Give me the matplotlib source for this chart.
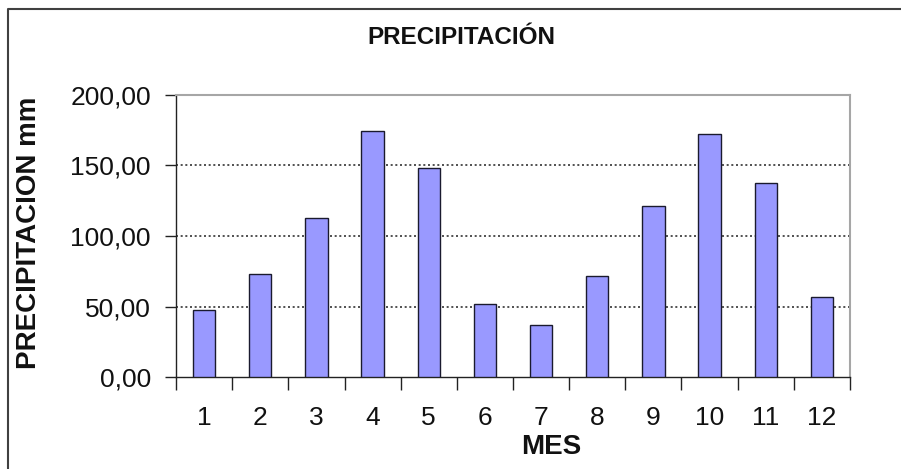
import matplotlib
matplotlib.use("Agg")
import matplotlib.pyplot as plt
from matplotlib.ticker import FixedLocator, FuncFormatter
from matplotlib.lines import Line2D

# --- Data ---
meses = [1, 2, 3, 4, 5, 6, 7, 8, 9, 10, 11, 12]
precipitacion = [47.5, 73.0, 113.0, 174.5, 148.0, 52.0, 37.0, 71.5, 121.5, 172.0, 137.5, 57.0]
y_ticks = [0, 50, 100, 150, 200]

plt.rcParams['font.family'] = ['Liberation Sans', 'DejaVu Sans']

fig = plt.figure(figsize=(9.01, 4.69), dpi=100)
fig.patch.set_facecolor('white')
ax = fig.add_axes([176 / 901, 1 - 377 / 469, (850 - 176) / 901, (377 - 95) / 469])

# --- Bars ---
ax.bar(meses, precipitacion, width=0.4, color='#9999FF', edgecolor='#1a1a2e',
       linewidth=1.0, zorder=3)

# --- Axes ---
ax.set_xlim(0.5, 12.5)
ax.set_ylim(0, 200)

ax.xaxis.set_major_locator(FixedLocator([m + 0.5 for m in [0] + meses]))
ax.xaxis.set_major_formatter(FuncFormatter(lambda v, p: ''))
ax.xaxis.set_minor_locator(FixedLocator(meses))
ax.xaxis.set_minor_formatter(FuncFormatter(lambda v, p: f'{int(round(v))}'))
ax.tick_params(axis='x', which='major', direction='out', length=9, width=1, color='#222222')
ax.tick_params(axis='x', which='minor', length=0, pad=21, labelsize=19, labelcolor='#111111')

ax.yaxis.set_major_locator(FixedLocator(y_ticks))
ax.yaxis.set_major_formatter(FuncFormatter(lambda v, p: f'{v:.2f}'.replace('.', ',')))
ax.tick_params(axis='y', direction='out', length=8, width=1, color='#222222',
               pad=10, labelsize=19, labelcolor='#111111')

# dotted gridlines at 50, 100, 150
for v in y_ticks[1:-1]:
    ax.axhline(v, color='#333333', linewidth=1.2, linestyle=(0, (1.2, 1.6)), zorder=1)

for side in ['left', 'bottom']:
    ax.spines[side].set_color('#222222')
    ax.spines[side].set_linewidth(1.0)
for side in ['top', 'right']:
    ax.spines[side].set_color('#a6a6a6')
    ax.spines[side].set_linewidth(1.5)

# --- Labels ---
ax.set_ylabel('PRECIPITACION mm', fontsize=20, fontweight='bold', color='#111111')
ax.yaxis.set_label_coords(-134 / 674, 0.51)
ax.set_xlabel('MES', fontsize=20, fontweight='bold', color='#111111')
ax.xaxis.set_label_coords((551 - 176) / 674, -57 / 282)

fig.text(461 / 901, 1 - 38 / 469, 'PRECIPITACIÓN', ha='center', va='center',
         fontsize=17.5, fontweight='bold', color='#111111')

# outer chart border
x0, y0 = 8 / 901, 1 - 9 / 469
fig.add_artist(Line2D([x0, x0, 1.0], [0.0, y0, y0], transform=fig.transFigure,
                      color='#404040', linewidth=1.5))

fig.savefig('out.png', dpi=100)
